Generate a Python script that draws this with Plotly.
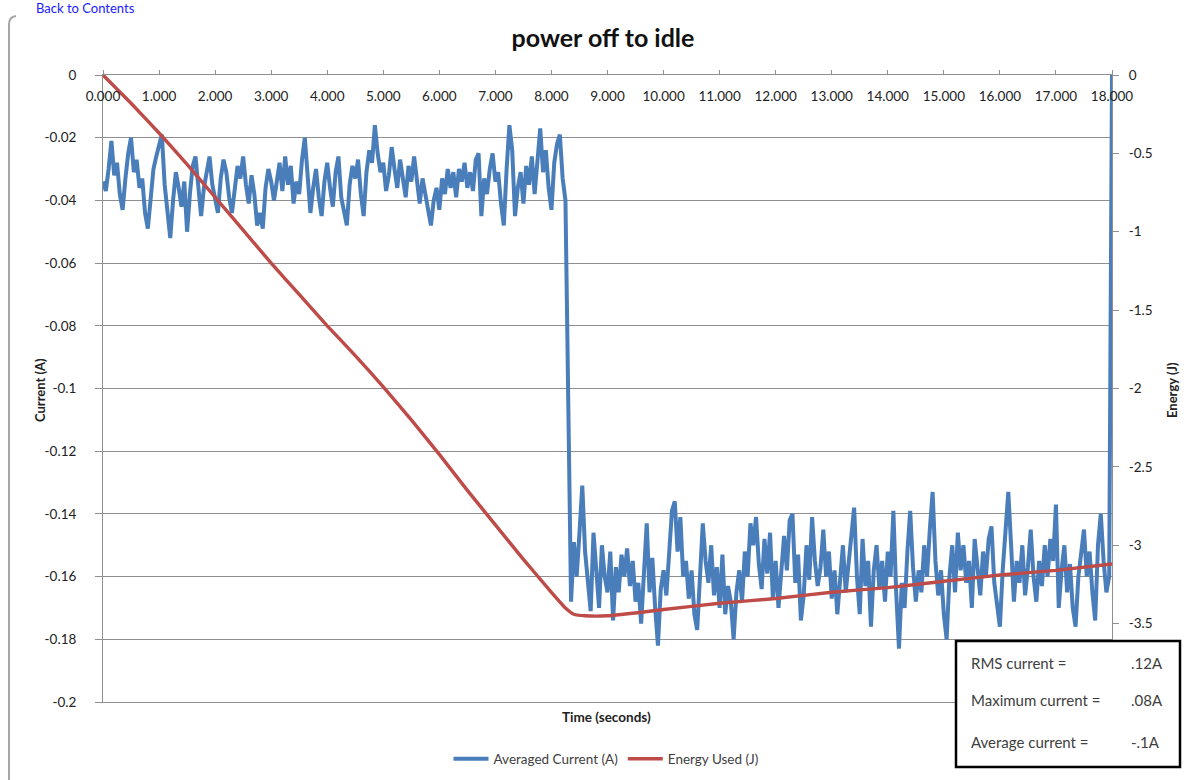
import numpy as np
import plotly.graph_objects as go

# Averaged current (A), one sample every 0.05 s from 0.00 s to 18.00 s
sample_step = 0.05
current_idle_off = [
    -0.034, -0.037, -0.030, -0.021, -0.032, -0.028, -0.038, -0.043, -0.033, -0.025,
    -0.020, -0.031, -0.027, -0.036, -0.033, -0.044, -0.049, -0.038, -0.030, -0.026,
    -0.022, -0.019, -0.035, -0.045, -0.052, -0.040, -0.031, -0.036, -0.042, -0.034,
    -0.050, -0.038, -0.029, -0.026, -0.037, -0.045, -0.036, -0.030, -0.026, -0.035,
    -0.040, -0.044, -0.033, -0.027, -0.031, -0.039, -0.044, -0.036, -0.029, -0.033,
    -0.026, -0.035, -0.041, -0.032, -0.038, -0.048, -0.044, -0.049, -0.036, -0.030,
    -0.034, -0.040, -0.033, -0.028, -0.037, -0.026, -0.035, -0.029, -0.041, -0.034,
    -0.038, -0.027, -0.020, -0.032, -0.044, -0.036, -0.030, -0.039, -0.045, -0.034,
    -0.028, -0.036, -0.042, -0.031, -0.026, -0.039, -0.044, -0.048, -0.035, -0.029,
    -0.033, -0.027, -0.038, -0.045, -0.031, -0.024, -0.028, -0.016, -0.025, -0.031,
    -0.028, -0.037, -0.032, -0.023, -0.030, -0.036, -0.027, -0.033, -0.039, -0.029,
    -0.034, -0.026, -0.035, -0.041, -0.033, -0.038, -0.044, -0.048, -0.040, -0.036,
    -0.043, -0.033, -0.038, -0.030, -0.036, -0.031, -0.039, -0.030, -0.034, -0.028,
    -0.036, -0.031, -0.037, -0.027, -0.025, -0.045, -0.033, -0.038, -0.030, -0.025,
    -0.034, -0.031, -0.041, -0.048, -0.030, -0.016, -0.024, -0.045, -0.036, -0.031,
    -0.041, -0.029, -0.035, -0.026, -0.038, -0.027, -0.017, -0.031, -0.024, -0.036,
    -0.043, -0.028, -0.022, -0.019, -0.033, -0.040,
]
current_idle_on = [
    -0.113, -0.168, -0.149, -0.160, -0.146, -0.131, -0.152, -0.163, -0.171, -0.146,
    -0.158, -0.170, -0.150, -0.160, -0.165, -0.152, -0.174, -0.157, -0.165, -0.153,
    -0.160, -0.151, -0.163, -0.155, -0.168, -0.162, -0.175, -0.158, -0.143, -0.165,
    -0.154, -0.170, -0.182, -0.164, -0.158, -0.166, -0.150, -0.139, -0.136, -0.152,
    -0.141, -0.160, -0.155, -0.167, -0.158, -0.172, -0.177, -0.160, -0.143, -0.155,
    -0.162, -0.150, -0.166, -0.157, -0.170, -0.153, -0.172, -0.163, -0.168, -0.180,
    -0.165, -0.158, -0.168, -0.152, -0.160, -0.143, -0.150, -0.141, -0.156, -0.164,
    -0.148, -0.159, -0.146, -0.167, -0.155, -0.170, -0.160, -0.147, -0.158, -0.142,
    -0.140, -0.162, -0.153, -0.174, -0.166, -0.150, -0.161, -0.141, -0.155, -0.163,
    -0.157, -0.145, -0.160, -0.152, -0.167, -0.158, -0.172, -0.160, -0.150, -0.165,
    -0.155, -0.145, -0.138, -0.160, -0.172, -0.148, -0.163, -0.155, -0.176, -0.158,
    -0.150, -0.164, -0.155, -0.168, -0.152, -0.160, -0.139, -0.165, -0.183, -0.162,
    -0.170, -0.152, -0.139, -0.157, -0.168, -0.158, -0.165, -0.150, -0.160, -0.145,
    -0.133, -0.155, -0.166, -0.158, -0.172, -0.180, -0.160, -0.150, -0.165, -0.146,
    -0.158, -0.150, -0.162, -0.155, -0.170, -0.148, -0.158, -0.166, -0.152, -0.160,
    -0.148, -0.144, -0.162, -0.170, -0.176, -0.158, -0.145, -0.133, -0.150, -0.168,
    -0.155, -0.162, -0.150, -0.166, -0.157, -0.145, -0.160, -0.168, -0.155, -0.163,
    -0.150, -0.160, -0.148, -0.155, -0.137, -0.170, -0.158, -0.150, -0.165, -0.156,
    -0.170, -0.176, -0.160, -0.152, -0.145, -0.160, -0.152, -0.165, -0.174, -0.150,
    -0.140, -0.155, -0.165, -0.160,
]
current_end = [0.0]

current = current_idle_off + current_idle_on + current_end
current_time = np.round(np.arange(len(current)) * sample_step, 2)

# Cumulative energy used (J)
energy_time = [0.0, 0.5, 1.0, 1.5, 2.0, 2.5, 3.0, 3.5, 4.0, 4.5, 5.0, 5.5, 6.0, 6.5,
               7.0, 7.5, 8.0, 8.25, 8.4, 8.6, 9.0, 10.0, 11.0, 12.0, 13.0, 14.0,
               15.0, 16.0, 17.0, 18.0]
energy = [0.0, -0.18, -0.37, -0.57, -0.78, -0.99, -1.20, -1.40, -1.60, -1.79, -1.99,
          -2.20, -2.42, -2.65, -2.87, -3.09, -3.30, -3.40, -3.44, -3.45, -3.45, -3.41,
          -3.37, -3.34, -3.30, -3.27, -3.23, -3.19, -3.16, -3.12]

# Axis ticks
time_ticks = list(range(0, 19))
current_ticks = [0, -0.02, -0.04, -0.06, -0.08, -0.1, -0.12, -0.14, -0.16, -0.18, -0.2]
current_tick_labels = ["0", "-0.02", "-0.04", "-0.06", "-0.08", "-0.1", "-0.12",
                       "-0.14", "-0.16", "-0.18", "-0.2"]
energy_ticks = [0, -0.5, -1, -1.5, -2, -2.5, -3, -3.5]
energy_tick_labels = ["0", "-0.5", "-1", "-1.5", "-2", "-2.5", "-3", "-3.5"]

# Summary box
summary_labels = ["RMS current =", "Maximum current =", "Average current ="]
summary_values = [".12A", ".08A", "-.1A"]

FONT = "Lato, 'Open Sans', sans-serif"
BLUE = "#4a7ebb"
RED = "#be4b48"
GRID = "#8f8f8f"
TEXT = "#404040"
TICK_TEXT = "#222222"

fig = go.Figure()
fig.add_trace(go.Scatter(
    x=current_time, y=current, mode="lines", name="Averaged Current (A)",
    line=dict(color=BLUE, width=4), xaxis="x", yaxis="y"))
fig.add_trace(go.Scatter(
    x=energy_time, y=energy, mode="lines", name="Energy Used (J)",
    line=dict(color=RED, width=3.4, shape="spline", smoothing=0.4),
    xaxis="x2", yaxis="y2"))

W, H = 1195, 780
L, R, T, B = 103, 83, 75, 78
pw, ph = W - L - R, H - T - B


def px(xp):
    return (xp - L) / pw


def py(yp):
    return (H - B - yp) / ph


fig.update_layout(
    width=W, height=H,
    margin=dict(l=L, r=R, t=T, b=B, autoexpand=False),
    paper_bgcolor="white", plot_bgcolor="white",
    font=dict(family=FONT, color=TEXT, size=12),
    title=dict(text="<b>power off to idle</b>", x=603 / W, xanchor="center",
               y=1 - 38 / H, yanchor="middle",
               font=dict(family=FONT, size=25, color="#111111")),
    showlegend=True,
    legend=dict(orientation="h", x=px(606), xanchor="center", y=py(759), yanchor="middle",
                font=dict(family=FONT, size=13.5, color=TEXT), itemwidth=35,
                bgcolor="rgba(0,0,0,0)"),
    # time axis line along the top edge, with small upward tick marks
    xaxis=dict(
        range=[0, 18], side="top", tickvals=time_ticks, showticklabels=False,
        ticks="outside", ticklen=4, tickcolor=GRID,
        showline=True, linecolor=GRID, linewidth=1, mirror=True,
        showgrid=False, zeroline=False,
    ),
    # time tick labels, hung just beneath the top axis line
    xaxis2=dict(
        range=[0, 18], overlaying="x", anchor="free", position=py(104), side="top",
        tickvals=time_ticks, tickformat=".3f", ticks="",
        showline=False, showgrid=False, zeroline=False,
        tickfont=dict(family=FONT, size=13.5, color=TICK_TEXT),
    ),
    yaxis=dict(
        range=[-0.2, 0], tickvals=current_ticks, ticktext=current_tick_labels,
        anchor="x", ticks="outside", ticklen=7, tickcolor=GRID, ticklabelstandoff=16,
        showline=True, linecolor=GRID, linewidth=1,
        showgrid=True, gridcolor=GRID, gridwidth=1, zeroline=False,
        tickfont=dict(family=FONT, size=13.5, color=TICK_TEXT),
    ),
    yaxis2=dict(
        range=[-4, 0], overlaying="y", side="right", anchor="x",
        tickvals=energy_ticks, ticktext=energy_tick_labels,
        ticks="outside", ticklen=6, tickcolor=GRID, ticklabelstandoff=7,
        showline=True, linecolor=GRID, linewidth=1,
        showgrid=False, zeroline=False,
        tickfont=dict(family=FONT, size=13.5, color=TICK_TEXT),
    ),
)

annotations = [
    dict(text="<b>Time (seconds)</b>", x=px(606), y=py(717), xref="paper", yref="paper",
         xanchor="center", yanchor="middle", showarrow=False,
         font=dict(family=FONT, size=13.5, color="#222222")),
    dict(text="<b>Current (A)</b>", x=px(40), y=py(390), xref="paper", yref="paper",
         xanchor="center", yanchor="middle", showarrow=False, textangle=-90,
         font=dict(family=FONT, size=13, color="#222222")),
    dict(text="<b>Energy (J)</b>", x=px(1172), y=py(390), xref="paper", yref="paper",
         xanchor="center", yanchor="middle", showarrow=False, textangle=-90,
         font=dict(family=FONT, size=13, color="#222222")),
    dict(text="Back to Contents", x=px(34), y=py(8), xref="paper", yref="paper",
         xanchor="left", yanchor="middle", showarrow=False,
         font=dict(family=FONT, size=13, color="#1a1aff")),
]
for lab, val, yp in zip(summary_labels, summary_values, [663, 700, 742]):
    annotations.append(dict(text=lab, x=px(969), y=py(yp), xref="paper", yref="paper",
                            xanchor="left", yanchor="middle", showarrow=False,
                            font=dict(family=FONT, size=15, color=TEXT)))
    annotations.append(dict(text=val, x=px(1129), y=py(yp), xref="paper", yref="paper",
                            xanchor="left", yanchor="middle", showarrow=False,
                            font=dict(family=FONT, size=15, color=TEXT)))
fig.update_layout(annotations=annotations)

# Summary box and the chart frame edge
fig.add_shape(type="rect", xref="paper", yref="paper",
              x0=px(956), x1=px(1180), y0=py(767), y1=py(641),
              line=dict(color="black", width=2.5), fillcolor="white", layer="above")
fig.add_shape(type="path", xref="paper", yref="paper",
              path=f"M {px(9)},{py(780)} L {px(9)},{py(24)} Q {px(9)},{py(17)} {px(16)},{py(16)}",
              line=dict(color="#a6a6a6", width=2))

fig.write_html("out.html")
